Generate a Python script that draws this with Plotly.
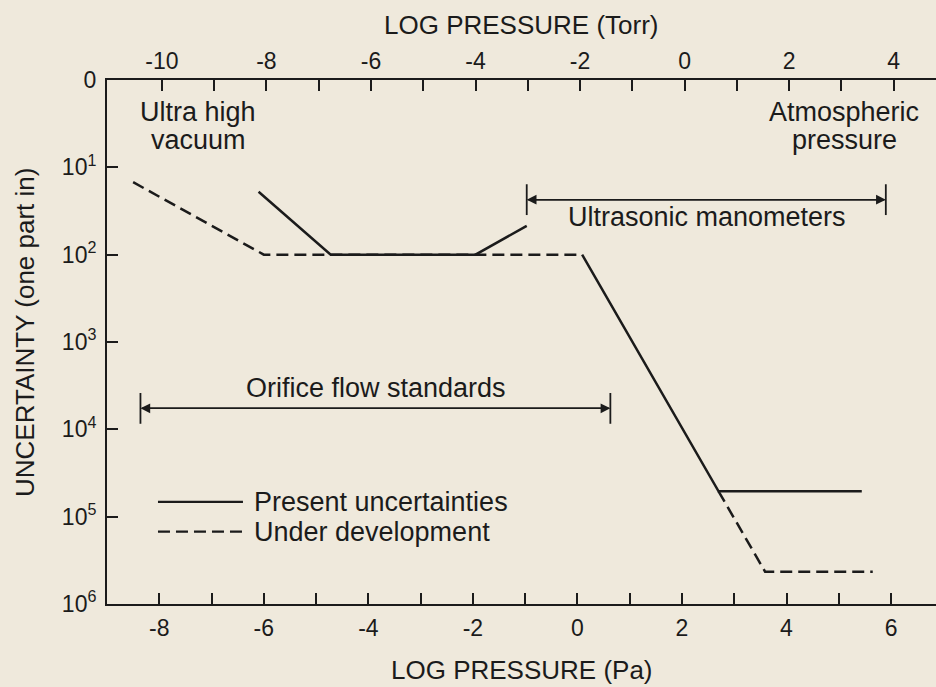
import plotly.graph_objects as go

# ---------------- data ----------------
# x: log10 pressure in Pa ; y: log10 of "one part in" uncertainty
present_x = [-6.10, -4.72, -1.95, -0.97, None, 0.09, 2.70, 5.44]
present_u = [1.28, 2.00, 2.00, 1.67, None, 2.00, 4.71, 4.71]

develop_x = [-8.50, -6.00, 0.09, None, 2.70, 3.59, 5.65]
develop_u = [1.17, 2.00, 2.00, None, 4.71, 5.63, 5.63]

ultrasonic_range = [-0.97, 5.90]
ultrasonic_u = 1.37
orifice_range = [-8.36, 0.63]
orifice_u = 3.76

pa_ticks = [-8, -6, -4, -2, 0, 2, 4, 6]
pa_tick_labels = ["-8", "-6", "-4", "-2", "0", "2", "4", "6"]
pa_minor = [-9, -7, -5, -3, -1, 1, 3, 5]

torr_ticks = [-10, -8, -6, -4, -2, 0, 2, 4]
torr_tick_labels = ["-10", "-8", "-6", "-4", "-2", "0", "2", "4"]
torr_minor = [-9, -7, -5, -3, -1, 1, 3]
torr_offset = 2.05  # log Pa - log Torr as drawn

u_ticks = [0, 1, 2, 3, 4, 5, 6]
u_tick_labels = ["0", "10<sup>1</sup>", "10<sup>2</sup>", "10<sup>3</sup>",
                 "10<sup>4</sup>", "10<sup>5</sup>", "10<sup>6</sup>"]

pa_range = [-9.0, 6.86]
u_range = [6, 0]

# ---------------- style ----------------
INK = "#1b1b1b"
BG = "#efe9dc"
FONT = "Liberation Sans, Arial, Helvetica, sans-serif"
DASH = "12px,6px"

fig = go.Figure()

fig.add_trace(go.Scatter(x=develop_x, y=develop_u, mode="lines",
                         line=dict(color=INK, width=2.5, dash=DASH),
                         showlegend=False, hoverinfo="skip"))
fig.add_trace(go.Scatter(x=present_x, y=present_u, mode="lines",
                         line=dict(color=INK, width=2.5),
                         showlegend=False, hoverinfo="skip"))

# range bars (end stops)
for rng, u in [(ultrasonic_range, ultrasonic_u), (orifice_range, orifice_u)]:
    fig.add_trace(go.Scatter(x=rng, y=[u, u], mode="markers",
                             marker=dict(symbol="line-ns-open", size=22,
                                         color=INK,
                                         line=dict(color=INK, width=1.8)),
                             showlegend=False, hoverinfo="skip"))

# invisible anchor so the Torr axis is drawn
fig.add_trace(go.Scatter(x=[torr_ticks[0]], y=[u_range[0]], xaxis="x2",
                         mode="markers", marker=dict(opacity=0),
                         showlegend=False, hoverinfo="skip"))

annotations = []
# double-headed arrows
for rng, u in [(ultrasonic_range, ultrasonic_u), (orifice_range, orifice_u)]:
    for head, tail in [(rng[0], rng[1]), (rng[1], rng[0])]:
        annotations.append(dict(x=head, y=u, ax=tail, ay=u, xref="x", yref="y",
                                axref="x", ayref="y", text="", showarrow=True,
                                arrowhead=2, arrowsize=1.3, arrowwidth=1.5,
                                arrowcolor=INK, standoff=0, startstandoff=0))

text_font = dict(family=FONT, size=27, color=INK)
labels = [
    ("Ultrasonic manometers", 2.48, 1.565),
    ("Orifice flow standards", -3.86, 3.53),
    ("Ultra high", -7.25, 0.37),
    ("vacuum", -7.25, 0.69),
    ("Atmospheric", 5.10, 0.37),
    ("pressure", 5.10, 0.69),
]
for txt, x, y in labels:
    annotations.append(dict(x=x, y=y, xref="x", yref="y", text=txt,
                            showarrow=False, font=text_font,
                            xanchor="center", yanchor="middle"))

# manual legend
leg_x0, leg_x1, leg_tx = 0.0615, 0.164, 0.175
leg_items = [("Present uncertainties", "solid", 0.195),
             ("Under development", DASH, 0.138)]
shapes = []
for txt, dash, y in leg_items:
    shapes.append(dict(type="line", xref="paper", yref="paper",
                       x0=leg_x0, x1=leg_x1, y0=y, y1=y,
                       line=dict(color=INK, width=2.2, dash=dash)))
    annotations.append(dict(x=leg_tx, y=y, xref="paper", yref="paper",
                            text=txt, showarrow=False, font=text_font,
                            xanchor="left", yanchor="middle"))

# axis titles
title_font = dict(family=FONT, size=26, color=INK)
annotations.append(dict(x=0.5, y=-0.126, xref="paper", yref="paper",
                        text="LOG PRESSURE (Pa)", showarrow=False,
                        font=title_font, xanchor="center", yanchor="middle"))
annotations.append(dict(x=0.5, y=1.105, xref="paper", yref="paper",
                        text="LOG PRESSURE (Torr)", showarrow=False,
                        font=title_font, xanchor="center", yanchor="middle"))
annotations.append(dict(x=-0.099, y=0.519, xref="paper", yref="paper",
                        text="UNCERTAINTY (one part in)", showarrow=False,
                        font=title_font, textangle=-90,
                        xanchor="center", yanchor="middle"))

tick_font = dict(family=FONT, size=23, color=INK)
common = dict(showgrid=False, zeroline=False, ticks="inside", ticklen=11,
              tickwidth=1.6, tickcolor=INK, tickfont=tick_font)

fig.update_layout(
    width=936, height=687,
    margin=dict(l=107, r=0, t=80, b=83),
    paper_bgcolor=BG, plot_bgcolor=BG,
    showlegend=False,
    annotations=annotations,
    shapes=shapes,
    xaxis=dict(range=pa_range, tickvals=pa_ticks, ticktext=pa_tick_labels,
               showline=True, linewidth=2, linecolor=INK,
               ticklabelstandoff=2,
               minor=dict(tickvals=pa_minor, ticks="inside", ticklen=11,
                          tickwidth=1.6, tickcolor=INK),
               **common),
    xaxis2=dict(range=[pa_range[0] - torr_offset, pa_range[1] - torr_offset],
                overlaying="x", side="top", anchor="y",
                tickvals=torr_ticks, ticktext=torr_tick_labels,
                showline=True, linewidth=2, linecolor=INK,
                ticklabelstandoff=0,
                minor=dict(tickvals=torr_minor, ticks="inside", ticklen=11,
                           tickwidth=1.6, tickcolor=INK),
                **common),
    yaxis=dict(range=u_range, tickvals=u_ticks, ticktext=u_tick_labels,
               showline=True, linewidth=2, linecolor=INK,
               ticklabelstandoff=4, **common),
    yaxis2=dict(range=u_range, overlaying="y", side="right", anchor="x",
                tickvals=u_ticks[1:-1], showticklabels=False,
                showline=False, showgrid=False, zeroline=False,
                ticks="inside", ticklen=9, tickwidth=1.6, tickcolor=INK),
)

fig.write_html(
    "out.html",
    config={"displayModeBar": False},
    post_script="document.body.style.margin='0';"
                "document.body.style.background='" + BG + "';",
)
